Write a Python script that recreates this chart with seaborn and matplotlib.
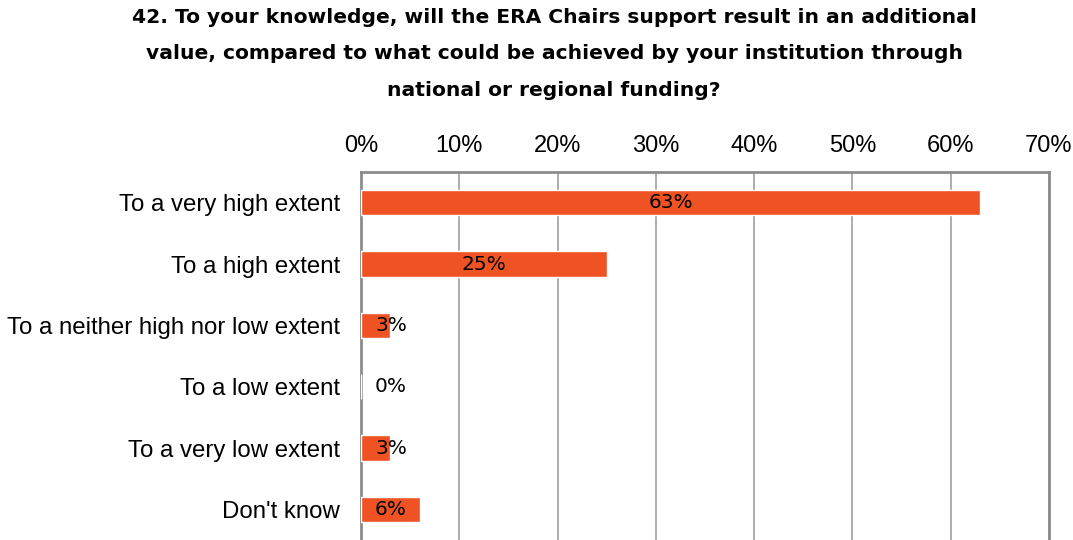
import matplotlib
matplotlib.use("Agg")
import matplotlib.pyplot as plt
import seaborn as sns
import pandas as pd
import numpy as np

categories = [
    "To a very high extent",
    "To a high extent",
    "To a neither high nor low extent",
    "To a low extent",
    "To a very low extent",
    "Don't know",
]
values = [63, 25, 3, 0, 3, 6]
x_ticks = [0, 10, 20, 30, 40, 50, 60, 70]

title = ("42. To your knowledge, will the ERA Chairs support result in an additional\n"
         "value, compared to what could be achieved by your institution through\n"
         "national or regional funding?")

sns.set_style("white")
plt.rcParams["font.family"] = ["Liberation Sans", "DejaVu Sans"]

df = pd.DataFrame({"category": categories, "value": values})

fig = plt.figure(figsize=(10.73, 5.40), dpi=100)
ax = fig.add_axes([361 / 1073, 0.0, (1049 - 361) / 1073, (540 - 172) / 540])

sns.barplot(data=df, x="value", y="category", orient="h", color="#F05323",
            width=0.41, saturation=1, ax=ax, zorder=3)

ax.set_xlim(0, 70)
ax.set_ylim(len(categories) - 0.5, -0.5)
ax.set_xticks(x_ticks)
ax.set_xticklabels([f"{t}%" for t in x_ticks], fontsize=17, color="black")
ax.xaxis.tick_top()
ax.tick_params(axis="x", length=0, pad=11)
ax.tick_params(axis="y", length=0, pad=15, labelsize=17.3, labelcolor="black")
ax.set_xlabel("")
ax.set_ylabel("")

# boundary ticks on the left axis
ax.set_yticks(np.arange(len(categories) + 1) - 0.5, minor=True)
ax.tick_params(axis="y", which="minor", direction="in", length=7, color="#999999", width=1)

ax.grid(axis="x", color="#A0A0A0", linewidth=1.2, zorder=0)
for side in ["left", "top", "right"]:
    ax.spines[side].set_color("#8C8C8C")
    ax.spines[side].set_linewidth(2)
ax.spines["bottom"].set_visible(False)

for i, v in enumerate(values):
    ax.text(max(v / 2, 3.05), i, f"{v}%", ha="center", va="center",
            fontsize=14.5, family="DejaVu Sans", color="black", zorder=4)

fig.text(554 / 1073, 1 - 8 / 540, title, ha="center", va="top", fontsize=14.6,
         fontweight="bold", family="DejaVu Sans", color="black", linespacing=2.15)

fig.savefig("out.png", dpi=100)
